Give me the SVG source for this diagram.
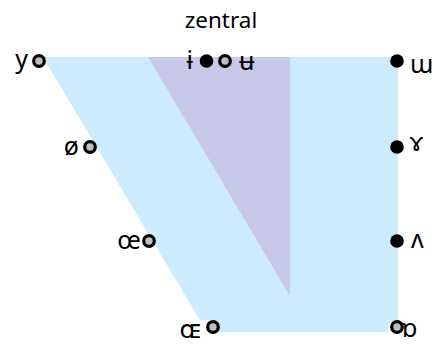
<svg xmlns="http://www.w3.org/2000/svg" width="437" height="347" viewBox="0 0 437 347">
<style>
text{font-family:"Noto Sans","DejaVu Sans",sans-serif;font-size:25px;fill:#000}
.z{font-size:22.5px}
.e{text-anchor:end}
.g{fill:#C0C0C0;stroke:#000;stroke-width:3.2}
.b{fill:#000}
</style>
<rect width="437" height="347" fill="#fff"/>
<g id="areas">
<polygon points="43,57 398,57 398,332 207,332" fill="#CCEBFD"/>
<polygon points="148,57 290,57 290,296" fill="#C8C8EA"/>
<rect x="388" y="323" width="45" height="24" fill="#fff"/>
<rect x="176" y="320" width="35" height="24" fill="#fff"/>
</g>
<g id="connectors"></g>
<text class="z" x="221" y="28" text-anchor="middle">zentral</text>
<g id="n-y"><circle class="g" cx="39" cy="61" r="5.3"/><text class="e" x="28" y="68">y</text></g>
<g id="n-oe"><circle class="g" cx="90" cy="147" r="5.3"/><text class="e" x="79" y="155">ø</text></g>
<g id="n-oelig"><circle class="g" cx="149" cy="241" r="5.3"/><text class="e" x="141" y="249">œ</text></g>
<g id="n-OE"><circle class="g" cx="213" cy="327" r="5.3"/><text class="e" x="201" y="338">ɶ</text></g>
<g id="n-i"><circle class="b" cx="206.5" cy="61" r="6.8"/><text class="e" x="193" y="69">ɨ</text></g>
<g id="n-u"><circle class="g" cx="225" cy="61" r="5.3"/><text x="239" y="70">ʉ</text></g>
<g id="n-w"><circle class="b" cx="397" cy="61" r="6.8"/><text x="410" y="73">ɯ</text></g>
<g id="n-gamma"><circle class="b" cx="397" cy="147" r="6.8"/><text x="410" y="151">ɤ</text></g>
<g id="n-v"><circle class="b" cx="397" cy="241" r="6.8"/><text x="411" y="248">ʌ</text></g>
<g id="n-a"><circle class="g" cx="397" cy="327" r="5.3"/><text x="402" y="337">ɒ</text></g>
</svg>
